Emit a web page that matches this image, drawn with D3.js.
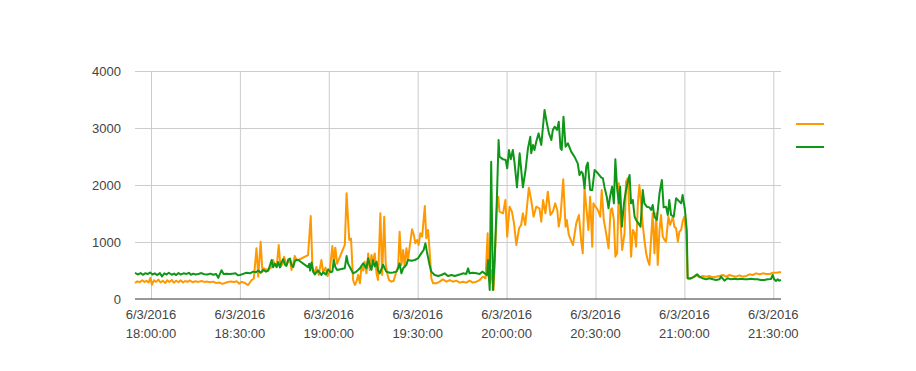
<!DOCTYPE html>
<html>
<head>
<meta charset="utf-8">
<script src="https://cdn.jsdelivr.net/npm/d3@7"></script>
<style>
  html, body { margin: 0; padding: 0; background: #fff; }
  svg { display: block; font-family: Arial, "Liberation Sans", sans-serif; }
</style>
</head>
<body>
<div id="chart"></div>
<script>
// --- Chart data (minutes after 6/3/2016 18:00:00, value) ---
const orangeSeries = [
  [-5.4,280],[-4.6,310],[-3.8,295],[-3,330],[-2.2,300],[-1.5,320],[-0.8,290],[-0.2,370],[0.3,250],[1,330],[1.7,300],[2.5,340],[3.2,290],[4,320],[4.8,280],[5.5,330],[6.2,300],[7,335],[7.7,285],[8.5,320],[9.3,295],[10,330],[10.8,290],[11.5,315],[12.3,300],[13,325],[14,295],[15,310],[16,300],[17,315],[18,300],[19,305],[20,295],[21,305],[22,280],[23,290],[24,265],[25,280],[26,300],[27,305],[28,300],[29,310],[29.7,270],
  [30.6,300],[31.7,280],[32.8,245],[33.9,330],[34.7,360],[35.6,890],[36.2,390],[37.0,1005],[37.6,480],[38.1,540],[39.0,510],[39.9,530],[40.7,560],[41.2,684],[41.8,600],[42.4,560],[43.1,947],[43.7,560],[44.4,620],[44.9,740],[45.7,600],[46.3,650],[46.9,684],[47.4,510],[48.0,620],[48.5,755],[49.1,680],[49.7,684],
  [53.0,770],[53.9,1456],[54.5,540],[55.3,460],[55.8,560],[56.6,420],[57.5,684],[58.1,470],[58.9,550],[59.6,400],[60.3,480],[61.2,930],[61.7,620],[62.2,900],[62.8,620],
  [65.4,950],[66.0,1855],[66.9,1035],[67.5,1060],[68.2,333],[68.8,245],[69.3,300],[69.9,421],[70.5,275],[71.0,567],[71.6,500],[72.1,655],[72.7,450],[73.3,800],[73.8,509],[74.4,772],[74.9,650],[75.5,800],[76.1,450],[76.6,333],[77.4,1503],[78.0,420],[78.7,1444],[79.2,620],[79.7,450],[80.3,333],[81.1,304],[81.9,320],[82.8,480],[83.4,567],[83.9,1181],[84.5,596],[85.1,860],[85.6,567],[86.2,889],[86.7,684],[87.3,918],[88.1,1222],[88.7,1123],[89.2,977],[89.8,1035],[90.3,947],[90.9,1152],[91.5,1094],[92.4,1632],[92.9,1064],[93.5,1210],[94.0,860],[94.6,363],[95.2,275],[96.3,275],[97.4,304],[98.5,345],[99.7,304],[100.8,333],[101.9,304],[103.0,322],[104.2,287],
  [105.3,304],[106.4,287],[107.5,322],[108.6,287],[109.8,304],[110.9,333],[112.0,392],[112.9,363],[113.6,1152],[113.9,392],[114.5,275],[115.1,509],[115.6,158],[116.2,924],[116.7,1567],[117.2,1795],[117.6,1532],[118.8,1503],[119.6,1737],[120.2,1094],[121.0,1620],[121.8,1532],[122.5,1327],[123.3,947],[124.2,1240],[124.9,1298],[125.5,1503],[126.3,1298],[127.5,1953],[128.3,1737],[129.1,1444],[130.0,1620],[131.1,1591],[131.7,1357],[132.3,1737],[133.1,1503],[133.9,1883],[134.8,1474],[135.6,1532],[136.4,1678],[137.1,1561],[137.6,1269],[138.2,1444],[139.1,2099],[139.9,1269],[140.3,1386],[141.0,1123],
  [142.4,947],[143.5,1327],[144.4,1474],[145.2,1006],[145.7,801],[146.3,1942],[147.1,1503],[147.6,1210],[148.2,1795],[148.9,918],[149.3,1678],[150.0,1620],[150.8,1561],[151.6,1444],[152.1,1912],[152.8,1386],[153.6,1152],[154.4,889],[155.1,1561],[155.6,1591],[156.2,1386],[156.7,743],[157.3,801],[157.9,2029],[158.4,1386],[159.0,860],[159.8,1152],[160.3,2058],[160.9,2117],[161.5,1444],[162.0,743],[162.6,1210],[163.2,1152],[163.7,918],[164.3,1678],[164.8,2000],[165.4,1678],[165.9,1327],[166.5,1035],[167.1,801],[167.6,684],[168.2,596],[168.8,1094],[169.3,1503],[169.9,801],[170.5,1503],[171.0,596],[171.6,1210],[172.1,1474],[172.7,1094],[173.3,1035],[173.8,1006],[174.6,1444],[175.2,1298],[176.1,1444],
  [176.6,1269],[177.2,1240],[177.8,1006],[178.3,1181],[178.9,1210],[179.4,1357],[180.0,1444],[180.6,1152],[181.1,363],
  [181.7,345],[182.8,380],[183.9,421],[185.1,380],[186.2,404],[187.3,392],[188.4,404],[189.6,380],[190.7,392],[191.8,404],[193.0,421],[194.1,392],[195.2,421],[196.3,404],[197.5,392],[198.6,415],[199.7,392],[200.9,404],[202.0,433],[203.1,421],[204.2,450],[205.4,433],[206.5,450],[207.6,439],[208.8,439],[209.9,462],[211.0,462],[212.1,468],[212.6,468]
];

const greenSeries = [
  [-5.4,460],[-4.5,430],[-3.5,455],[-2.8,425],[-2,450],[-1,440],[-0.3,465],[0.5,430],[1.3,450],[2,420],[3,455],[3.7,395],[4.5,450],[5.3,430],[6,460],[7,425],[7.8,445],[8.5,420],[9.3,455],[10,430],[11,450],[12,440],[12.8,460],[13.5,425],[14.3,445],[15,430],[16,440],[17,455],[18,435],[19,430],[20,445],[21,425],[22,440],[22.7,370],[23.8,505],[24.5,440],[25.5,445],[26.5,440],[27.5,445],[28.5,450],[29.3,415],
  [30,420],[31.1,440],[32.2,460],[33.4,450],[34.5,480],[35.4,470],[36.2,500],[37.0,460],[37.9,510],[38.8,480],[39.6,500],[40.7,684],[41.2,555],[41.8,620],[42.4,560],[42.9,650],[43.5,555],[44.0,640],[44.6,700],[45.2,600],[45.7,580],[46.3,690],[46.9,710],[47.4,600],[48.0,560],[48.5,660],[49.1,690],[49.7,684],
  [53.0,560],[53.4,620],[53.7,500],[54.2,640],[54.7,480],[55.3,430],[55.8,470],[56.4,500],[57.0,460],[57.5,420],[58.1,470],[59.0,430],[59.8,520],[60.6,470],[61.2,480],[61.7,684],[62.2,560],[62.8,510],
  [65.4,540],[66.0,754],[66.5,620],[67.1,560],[68.2,450],[69.3,480],[70.5,540],[71.6,625],[72.7,540],[73.3,713],[73.8,600],[74.4,510],[74.9,684],[75.5,570],[76.1,655],[76.6,510],[77.2,450],[78.3,600],[79.4,480],[80.6,460],[81.7,465],[82.8,480],[83.4,540],[83.9,625],[84.5,450],[85.1,540],[86.2,600],[86.7,684],[87.9,670],[89.0,684],[90.1,713],[91.2,800],[92.0,860],[92.6,976],[93.1,830],[94.0,600],[94.6,480],[95.7,421],[96.9,404],[98.0,421],[99.1,450],[100.2,404],[101.4,421],[102.5,404],[103.6,421],[104.7,439],
  [105.3,450],[106.4,440],[107.0,538],[107.5,450],[108.6,462],[109.8,450],[110.9,440],[111.8,480],[112.6,450],[113.4,421],[113.7,684],[114.3,158],[114.8,2409],[115.4,158],[115.96,684],[116.7,1737],[117.3,2789],[117.6,2497],[118.8,2450],[119.7,2440],[120.2,2292],[120.8,2614],[121.4,2450],[122.1,2614],[122.7,2380],[123.5,1959],[124.4,2556],[125.5,1959],[126.4,2263],[127.2,2643],[128.0,2848],[128.3,2556],[128.9,2702],[129.4,2614],[130.0,2760],[130.8,2906],[131.7,2702],[132.8,3316],[133.6,3082],[134.3,2906],[135.1,2789],[135.6,2965],[136.2,3023],[137.0,2965],[137.6,3111],[138.2,2643],[138.6,2614],[139.2,3199],[139.9,2673],[140.7,2731],
  [141.8,2585],[142.9,2497],[144.0,2380],[144.6,2175],[145.2,2234],[145.7,2205],[146.3,1942],[146.9,2322],[147.4,2392],[148.2,1912],[148.9,1912],[149.7,2263],[150.8,2205],[151.9,2134],[152.5,2117],[153.0,1971],[153.8,1795],[154.4,1591],[154.9,1795],[155.6,1971],[156.2,1678],[156.7,2450],[157.3,1942],[157.9,1678],[158.3,1971],[158.9,1269],[159.6,1678],[160.3,1912],[160.9,2058],[161.5,2175],[162.0,1678],[162.6,1737],[163.2,1444],[163.7,1386],[164.5,1327],[165.2,1269],[165.96,1912],[166.5,1678],[167.3,1620],[168.2,1608],[168.8,1561],[169.3,1649],[169.9,1444],[170.7,1386],[171.6,1854],[172.4,2088],[173.0,1608],[173.8,1620],[174.4,1474],[174.9,1737],[175.5,1474],[176.4,1444],
  [177.2,1766],[177.8,1737],[178.3,1708],[178.9,1678],[179.4,1825],[180.2,1561],[180.8,1210],[181.1,363],
  [182.2,363],[183.4,392],[184.3,433],[185.1,392],[186.2,363],[187.3,345],[188.4,363],[189.6,345],[190.7,333],[191.8,345],[192.4,392],[193.5,322],[194.6,363],[195.7,345],[196.9,357],[198.0,345],[199.1,357],[200.2,345],[201.3,345],[202.5,357],[203.6,345],[204.7,345],[205.8,333],[207.0,333],[208.1,345],[209.2,351],[209.8,421],[210.3,345],[210.9,316],[211.5,345],[212.0,322],[212.6,333]
];

const yTicks = [0, 1000, 2000, 3000, 4000];
const xTickMinutes = [0, 30, 60, 90, 120, 150, 180, 210];
const seriesNames = ["", ""];
const seriesColors = ["#ff9900", "#109618"];

// --- Layout ---
const WIDTH = 916, HEIGHT = 371;
const PLOT = { left: 135, right: 781, top: 71, bottom: 299 };
const BASE_TIME = new Date(2016, 5, 3, 18, 0, 0);

const toDate = m => new Date(BASE_TIME.getTime() + m * 60000);
const toPoints = s => s.map(([m, v]) => ({ date: toDate(m), value: v }));

const series = [orangeSeries, greenSeries].map(toPoints);

const svg = d3.select("#chart").append("svg")
  .attr("width", WIDTH)
  .attr("height", HEIGHT);

// --- Scales ---
const allDates = series.flat().map(d => d.date);
const xScale = d3.scaleTime()
  .domain(d3.extent(allDates))
  .range([PLOT.left, PLOT.right]);

const yScale = d3.scaleLinear()
  .domain([0, 4000])
  .range([PLOT.bottom, PLOT.top]);

// --- Gridlines ---
const xTickDates = xTickMinutes.map(toDate);

svg.append("g")
  .attr("transform", `translate(0, ${PLOT.bottom})`)
  .call(d3.axisBottom(xScale).tickValues(xTickDates).tickSize(-(PLOT.bottom - PLOT.top)).tickFormat(""))
  .call(g => g.select(".domain").remove())
  .call(g => g.selectAll("line").attr("stroke", "#cccccc"));

svg.append("g")
  .attr("transform", `translate(${PLOT.left}, 0)`)
  .call(d3.axisLeft(yScale).tickValues(yTicks).tickSize(-(PLOT.right - PLOT.left)).tickPadding(14).tickFormat(d3.format("d")))
  .call(g => g.select(".domain").remove())
  .call(g => g.selectAll("line").attr("stroke", d => d === 0 ? "none" : "#cccccc"))
  .call(g => g.selectAll("text")
    .attr("fill", "#444")
    .style("font-size", "13px")
    .style("font-family", "Arial, 'Liberation Sans', sans-serif"));

// --- X axis labels (two lines) ---
const fmtDay = d3.timeFormat("%-m/%-d/%Y");
const fmtTime = d3.timeFormat("%H:%M:%S");

const xLabels = svg.append("g")
  .selectAll("text")
  .data(xTickDates)
  .join("text")
  .attr("text-anchor", "middle")
  .attr("fill", "#444")
  .style("font-size", "13px");

xLabels.append("tspan")
  .attr("x", d => xScale(d))
  .attr("y", 319)
  .text(d => fmtDay(d));

xLabels.append("tspan")
  .attr("x", d => xScale(d))
  .attr("y", 338)
  .text(d => fmtTime(d));

// --- Lines ---
const line = d3.line()
  .x(d => xScale(d.date))
  .y(d => yScale(d.value));

series.forEach((pts, i) => {
  svg.append("path")
    .datum(pts)
    .attr("fill", "none")
    .attr("stroke", seriesColors[i])
    .attr("stroke-width", 2)
    .attr("stroke-linejoin", "round")
    .attr("d", line);
});

// --- Baseline ---
svg.append("line")
  .attr("x1", PLOT.left)
  .attr("x2", PLOT.right)
  .attr("y1", yScale(0))
  .attr("y2", yScale(0))
  .attr("stroke", "#333")
  .attr("stroke-width", 1);

// --- Legend ---
const legend = svg.append("g")
  .selectAll("g")
  .data(seriesNames)
  .join("g")
  .attr("transform", (d, i) => `translate(796, ${124 + i * 23})`);

legend.append("line")
  .attr("x1", 0)
  .attr("x2", 28)
  .attr("stroke", (d, i) => seriesColors[i])
  .attr("stroke-width", 2);

legend.append("text")
  .attr("x", 33)
  .attr("dy", "0.35em")
  .style("font-size", "13px")
  .attr("fill", "#222")
  .text(d => d);
</script>
</body>
</html>
